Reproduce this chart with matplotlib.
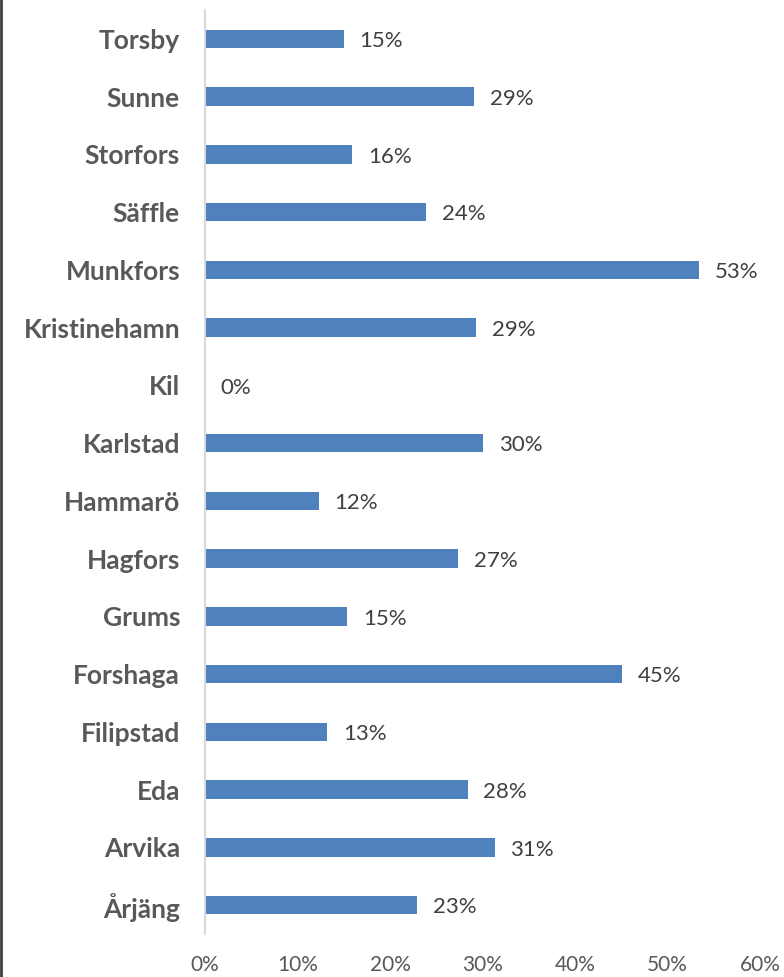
import matplotlib.pyplot as plt
from matplotlib.lines import Line2D

# data, top to bottom as shown (labels rounded)
kommuner = ["Torsby", "Sunne", "Storfors", "Säffle", "Munkfors", "Kristinehamn",
            "Kil", "Karlstad", "Hammarö", "Hagfors", "Grums", "Forshaga",
            "Filipstad", "Eda", "Arvika", "Årjäng"]
andel = [15.0, 29.1, 15.9, 23.9, 53.4, 29.3, 0, 30.1, 12.3, 27.4, 15.4, 45.1,
         13.2, 28.4, 31.3, 22.9]
xticks = [0, 10, 20, 30, 40, 50, 60]
xticklabels = ["%d%%" % t for t in xticks]

plt.rcParams['font.family'] = ['Lato', 'DejaVu Sans']

fig = plt.figure(figsize=(7.84, 9.77), dpi=100)
ax = fig.add_axes([205/784, 43/977, 555/784, 924/977])

ypos = list(range(len(kommuner)))[::-1]
ax.barh(ypos, andel, height=0.32, color='#4f81bd')

for y, v in zip(ypos, andel):
    ax.text(v + 1.7, y - 0.04, "%.0f%%" % v, va='center', ha='left',
            fontsize=16, color='#404040')

ax.set_ylim(-0.5, len(kommuner) - 0.5)
ax.set_xlim(0, 60)
ax.set_yticks(ypos)
ax.set_yticklabels(kommuner, fontsize=19, fontweight='bold', color='#595959')
ax.set_xticks(xticks)
ax.set_xticklabels(xticklabels, fontsize=15, color='#595959')
ax.tick_params(axis='both', length=0)
ax.tick_params(axis='y', pad=18)
ax.tick_params(axis='x', pad=15)

for s in ['top', 'right', 'bottom']:
    ax.spines[s].set_visible(False)
ax.spines['left'].set_color('#d9d9d9')
ax.spines['left'].set_linewidth(1.5)

# dark border line at left edge of picture
fig.add_artist(Line2D([0.001, 0.001], [0, 1], color='#404040', lw=2,
                      transform=fig.transFigure))

fig.savefig("out.png", dpi=100)
